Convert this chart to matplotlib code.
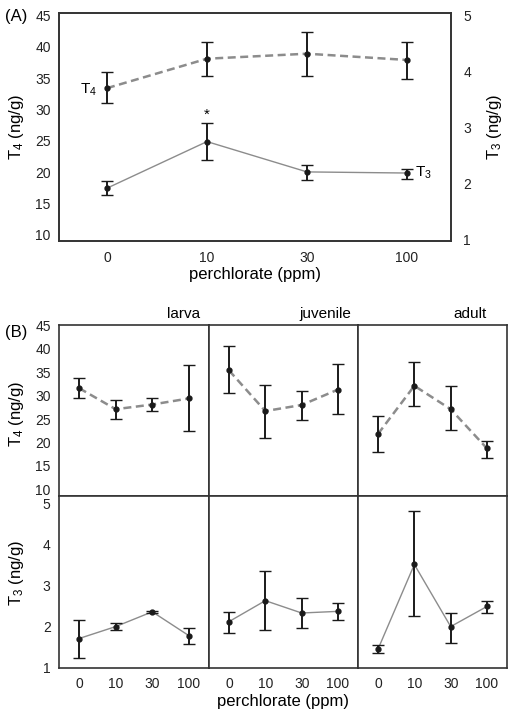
import numpy as np
import matplotlib.pyplot as plt

plt.rcParams['font.family'] = ['Liberation Sans', 'DejaVu Sans']
plt.rcParams['mathtext.fontset'] = 'custom'
plt.rcParams['mathtext.rm'] = 'Liberation Sans'
plt.rcParams['mathtext.it'] = 'Liberation Sans:italic'

# ---- data ----
doses = ['0', '10', '30', '100']

# panel A (all stages pooled)
a_t4_mean = [33.4, 38.1, 38.9, 37.9]
a_t4_low = [31.0, 35.3, 35.3, 34.8]
a_t4_high = [36.0, 40.8, 42.3, 40.8]
a_t3_mean = [1.92, 2.75, 2.21, 2.19]
a_t3_low = [1.80, 2.42, 2.07, 2.08]
a_t3_high = [2.04, 3.08, 2.34, 2.27]

# panel B (by life stage)
stages = ['larva', 'juvenile', 'adult']
b_t4_mean = [[31.6, 27.1, 28.1, 29.4], [35.4, 26.7, 28.0, 31.3], [21.8, 32.1, 27.1, 18.7]]
b_t4_low = [[29.4, 25.0, 26.8, 22.4], [30.6, 20.9, 24.8, 26.0], [17.9, 27.7, 22.6, 16.6]]
b_t4_high = [[33.7, 29.1, 29.4, 36.6], [40.7, 32.3, 31.0, 36.7], [25.6, 37.1, 32.1, 20.4]]
b_t3_mean = [[1.71, 2.00, 2.36, 1.78], [2.12, 2.63, 2.33, 2.37], [1.45, 3.51, 2.00, 2.49]]
b_t3_low = [[1.24, 1.92, 2.33, 1.58], [1.84, 1.92, 1.97, 2.17], [1.35, 2.25, 1.61, 2.33]]
b_t3_high = [[2.17, 2.08, 2.39, 1.97], [2.36, 3.34, 2.70, 2.57], [1.55, 4.80, 2.34, 2.63]]

T4_LABEL = r'$\mathrm{T_4}$ (ng/g)'
T3_LABEL = r'$\mathrm{T_3}$ (ng/g)'
EDGE = '#333333'
LINE = '#8c8c8c'


def draw_series(ax, mean, low, high, dashed):
    x = np.arange(len(mean))
    mean = np.array(mean)
    yerr = [mean - np.array(low), np.array(high) - mean]
    if dashed:
        ax.plot(x, mean, color=LINE, lw=1.8, ls=(0, (3.2, 1.8)), zorder=2)
    else:
        ax.plot(x, mean, color=LINE, lw=1.0, zorder=2)
    ax.errorbar(x, mean, yerr=yerr, fmt='o', color='#1a1a1a', ms=3.5,
                elinewidth=1.4, capsize=4, capthick=1.0, zorder=3)


def style(ax):
    for s in ax.spines.values():
        s.set_color(EDGE)
        s.set_linewidth(1.2)
    ax.tick_params(length=0, labelsize=10, colors='#222222')


fig = plt.figure(figsize=(5.16, 7.14), dpi=100)

# =========== A) pooled =========== #
axA = fig.add_axes([0.1143, 0.6625, 0.7597, 0.3193])
axA2 = axA.twinx()
draw_series(axA, a_t4_mean, a_t4_low, a_t4_high, dashed=True)
draw_series(axA2, a_t3_mean, a_t3_low, a_t3_high, dashed=False)
axA.set_xlim(-0.48, 3.44)
axA.set_ylim(9.0, 45.4)
axA2.set_ylim(0.98, 5.04)
axA.set_yticks([10, 15, 20, 25, 30, 35, 40, 45])
axA2.set_yticks([1, 2, 3, 4, 5])
axA.set_xticks(range(4))
axA.set_xticklabels(doses)
style(axA)
style(axA2)
axA.tick_params(axis='y', pad=6)
axA.tick_params(axis='x', pad=7)
axA2.tick_params(axis='y', pad=9)
axA.set_ylabel(T4_LABEL, fontsize=12)
axA.yaxis.set_label_coords(-0.084, 0.5)
axA2.set_ylabel(T3_LABEL, fontsize=12)
axA2.yaxis.set_label_coords(1.087, 0.5)
axA.set_xlabel('perchlorate (ppm)', fontsize=12, labelpad=2)
axA.annotate(r'$\mathrm{T_4}$', (0, a_t4_mean[0]), xytext=(-7, -1),
             textcoords='offset points', ha='right', va='center', fontsize=11)
axA2.annotate(r'$\mathrm{T_3}$', (3, a_t3_mean[3]), xytext=(5.5, 0),
              textcoords='offset points', ha='left', va='center', fontsize=11)
axA2.annotate('*', (1, a_t3_high[1]), xytext=(0, 1),
              textcoords='offset points', ha='center', va='bottom', fontsize=11)
fig.text(0.01, 0.977, '(A)', fontsize=12, va='center')

# =========== B) by life stage =========== #
col_x = [0.1143, 0.4050, 0.6938]
col_w = [0.2907, 0.2888, 0.2888]
label_frac = [0.83, 0.78, 0.75]
for i, stage in enumerate(stages):
    axT = fig.add_axes([col_x[i], 0.3057, col_w[i], 0.2391])
    axB = fig.add_axes([col_x[i], 0.0648, col_w[i], 0.2409])
    draw_series(axT, b_t4_mean[i], b_t4_low[i], b_t4_high[i], dashed=True)
    draw_series(axB, b_t3_mean[i], b_t3_low[i], b_t3_high[i], dashed=False)
    for ax in (axT, axB):
        ax.set_xlim(-0.55, 3.55)
        style(ax)
    axT.set_ylim(8.6, 45.1)
    axB.set_ylim(1.0, 5.18)
    axT.set_yticks([10, 15, 20, 25, 30, 35, 40, 45])
    axB.set_yticks([1, 2, 3, 4, 5])
    axT.set_xticks([])
    axB.set_xticks(range(4))
    axB.set_xticklabels(doses)
    axB.tick_params(axis='x', pad=7)
    if i == 0:
        axT.tick_params(axis='y', pad=6)
        axB.tick_params(axis='y', pad=6)
        axT.set_ylabel(T4_LABEL, fontsize=12)
        axT.yaxis.set_label_coords(-0.22, 0.48)
        axB.set_ylabel(T3_LABEL, fontsize=12)
        axB.yaxis.set_label_coords(-0.22, 0.55)
    else:
        axT.set_yticklabels([])
        axB.set_yticklabels([])
    if i == 1:
        axB.set_xlabel('perchlorate (ppm)', fontsize=12, labelpad=2)
    axT.text(label_frac[i], 1.025, stage, transform=axT.transAxes,
             ha='center', va='bottom', fontsize=11)
fig.text(0.01, 0.535, '(B)', fontsize=12, va='center')

fig.savefig('out.png', dpi=100)
